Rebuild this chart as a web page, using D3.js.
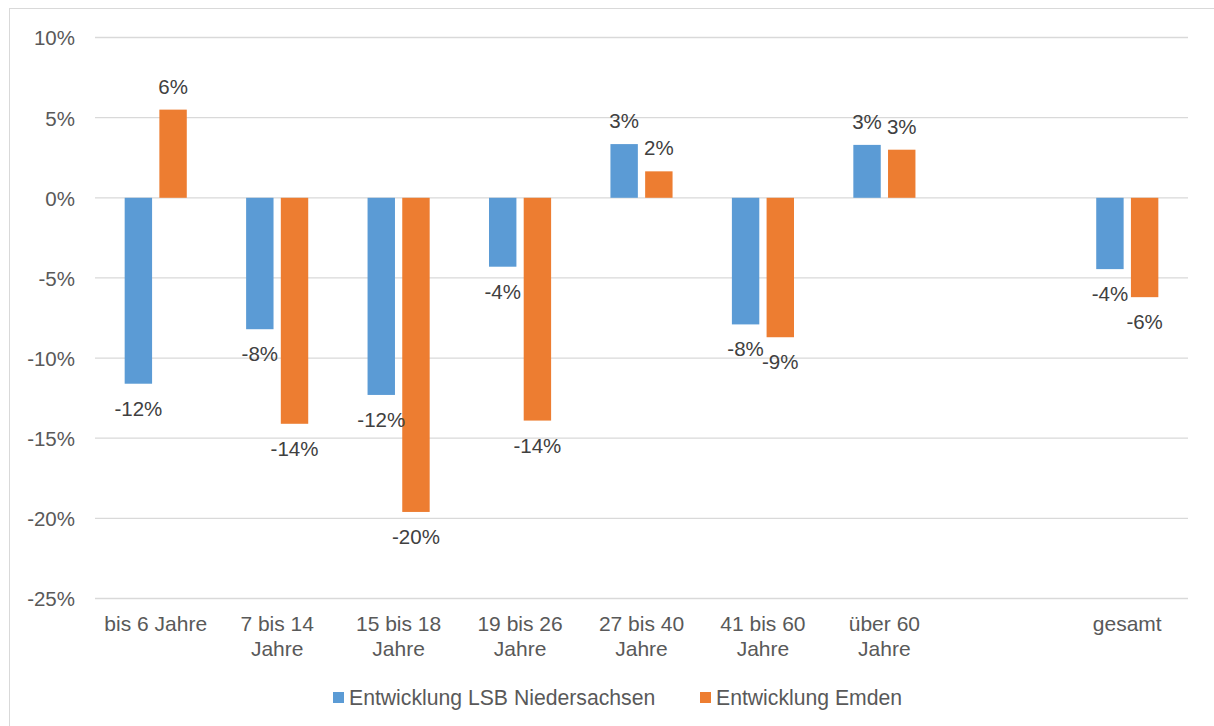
<!DOCTYPE html>
<html>
<head>
<meta charset="utf-8">
<script src="https://cdn.jsdelivr.net/npm/d3@7"></script>
<style>
  html, body { margin: 0; padding: 0; background: #fff; }
  svg { display: block; font-family: "Liberation Sans", Arial, sans-serif; }
</style>
</head>
<body>
<svg id="chart" width="1214" height="726"></svg>
<script>
const categories = [
  ["bis 6 Jahre"],
  ["7 bis 14", "Jahre"],
  ["15 bis 18", "Jahre"],
  ["19 bis 26", "Jahre"],
  ["27 bis 40", "Jahre"],
  ["41 bis 60", "Jahre"],
  ["über 60", "Jahre"],
  [""],
  ["gesamt"]
];
const seriesNames = ["Entwicklung LSB Niedersachsen", "Entwicklung Emden"];
const lsbValues = [-11.6, -8.2, -12.3, -4.3, 3.35, -7.9, 3.3, null, -4.45];
const emdenValues = [5.5, -14.1, -19.6, -13.9, 1.65, -8.7, 3.0, null, -6.2];
const yTicks = [10, 5, 0, -5, -10, -15, -20, -25];
const colors = ["#5b9bd5", "#ed7d31"];

const svg = d3.select("#chart");

// outer chart border
svg.append("rect")
  .attr("x", 9.5).attr("y", 8.5)
  .attr("width", 1210).attr("height", 730)
  .attr("fill", "#fff").attr("stroke", "#d9d9d9").attr("stroke-width", 1);

const plot = { left: 95, right: 1188, top: 37.5, bottom: 598.5 };

const y = d3.scaleLinear().domain([-25, 10]).range([plot.bottom, plot.top]);
const x0 = d3.scaleBand().domain(d3.range(categories.length))
  .range([plot.left, plot.right]).paddingInner(0).paddingOuter(0);
const x1 = d3.scaleBand().domain([0, 1])
  .range([0, x0.bandwidth()]).paddingInner(0.21).paddingOuter(0.855);

// gridlines
svg.append("g").selectAll("line").data(yTicks).join("line")
  .attr("x1", plot.left).attr("x2", plot.right)
  .attr("y1", d => y(d)).attr("y2", d => y(d))
  .attr("stroke", "#d9d9d9").attr("stroke-width", 1.3);

// y axis labels
const yAxis = d3.axisLeft(y).tickValues(yTicks).tickSize(0).tickPadding(0)
  .tickFormat(d => d + "%");
const yg = svg.append("g").attr("transform", `translate(${plot.left - 20},0)`).call(yAxis);
yg.select(".domain").remove();
yg.attr("font-size", null).attr("font-family", null);
yg.selectAll("text").attr("font-size", 20.5).attr("fill", "#595959").attr("dy", "0.36em");

// bars
const data = [];
categories.forEach((c, i) => {
  [lsbValues[i], emdenValues[i]].forEach((v, s) => {
    if (v !== null) data.push({ i, s, v });
  });
});

svg.append("g").selectAll("rect").data(data).join("rect")
  .attr("x", d => x0(d.i) + x1(d.s))
  .attr("width", x1.bandwidth())
  .attr("y", d => Math.min(y(d.v), y(0)))
  .attr("height", d => Math.abs(y(d.v) - y(0)))
  .attr("fill", d => colors[d.s]);

// data labels
svg.append("g").selectAll("text").data(data).join("text")
  .attr("x", d => x0(d.i) + x1(d.s) + x1.bandwidth() / 2)
  .attr("y", d => d.v >= 0 ? y(d.v) - 16 : y(d.v) + 32)
  .attr("text-anchor", "middle")
  .attr("font-size", 20.5).attr("fill", "#404040")
  .text(d => Math.round(d.v) + "%");

// x category labels
const xg = svg.append("g");
categories.forEach((lines, i) => {
  const cx = x0(i) + x0.bandwidth() / 2;
  const t = xg.append("text")
    .attr("x", cx)
    .attr("y", 631)
    .attr("text-anchor", "middle")
    .attr("font-size", 21).attr("fill", "#595959");
  lines.forEach((ln, k) => {
    t.append("tspan").attr("x", cx)
      .attr("dy", k === 0 ? 0 : 25).text(ln);
  });
});

// legend
const legendX = [333, 700];
const lg = svg.append("g");
seriesNames.forEach((n, s) => {
  lg.append("rect").attr("x", legendX[s]).attr("y", 692)
    .attr("width", 11).attr("height", 11).attr("fill", colors[s]);
  lg.append("text").attr("x", legendX[s] + 16).attr("y", 705)
    .attr("font-size", 21.2).attr("fill", "#595959").text(n);
});
</script>
</body>
</html>
